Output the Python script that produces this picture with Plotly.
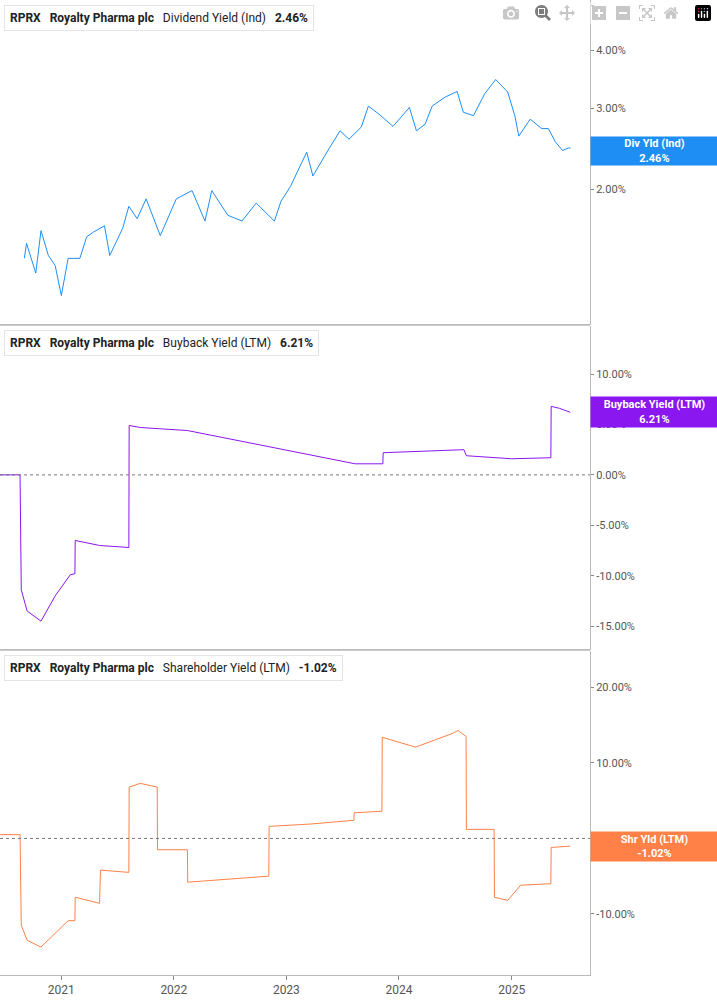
import plotly.graph_objects as go
from plotly.subplots import make_subplots

# dividend yield (Ind), percent
div_dates = ["2020-09-03", "2020-09-10", "2020-10-10", "2020-10-27", "2020-11-20", "2020-12-12",
             "2021-01-01", "2021-01-23", "2021-03-02", "2021-03-24", "2021-04-16", "2021-05-21",
             "2021-06-07", "2021-07-19", "2021-08-08", "2021-09-04", "2021-10-03", "2021-11-18",
             "2022-01-09", "2022-03-01", "2022-04-12", "2022-05-04", "2022-06-25", "2022-08-10",
             "2022-09-25", "2022-11-23", "2022-12-15", "2023-01-14", "2023-03-08", "2023-03-28",
             "2023-05-19", "2023-06-24", "2023-07-23", "2023-09-01", "2023-09-24", "2023-10-29",
             "2023-12-13", "2024-02-04", "2024-02-27", "2024-03-26", "2024-04-18", "2024-05-30",
             "2024-07-08", "2024-07-28", "2024-08-30", "2024-10-05", "2024-11-10", "2024-12-19",
             "2025-01-11", "2025-01-24", "2025-03-02", "2025-04-08", "2025-04-30", "2025-05-22",
             "2025-06-15", "2025-07-04", "2025-07-11"]
div_vals = [1.42, 1.53, 1.32, 1.63, 1.44, 1.37,
            1.18, 1.42, 1.42, 1.58, 1.62, 1.67,
            1.44, 1.65, 1.84, 1.73, 1.91, 1.59,
            1.91, 1.99, 1.71, 1.99, 1.76, 1.71,
            1.87, 1.71, 1.89, 2.03, 2.41, 2.14,
            2.45, 2.68, 2.57, 2.73, 3.03, 2.91,
            2.74, 3.01, 2.68, 2.77, 3.03, 3.17,
            3.26, 2.94, 2.89, 3.22, 3.46, 3.25,
            2.89, 2.61, 2.84, 2.71, 2.71, 2.54,
            2.43, 2.46, 2.46]

# buyback yield (LTM), percent
bb_dates = ["2020-06-16", "2020-08-20", "2020-08-24", "2020-09-12", "2020-10-27", "2020-12-12",
            "2021-01-30", "2021-02-14", "2021-02-15", "2021-05-05", "2021-08-08", "2021-08-09",
            "2021-09-14", "2022-02-14", "2023-08-12", "2023-11-10", "2023-11-11", "2024-07-30",
            "2024-08-07", "2025-01-01", "2025-05-08", "2025-05-09", "2025-06-05", "2025-07-10"]
bb_vals = [0.0, 0.0, -11.4, -13.5, -14.5, -12.0,
           -9.9, -9.8, -6.5, -7.0, -7.2, 4.9,
           4.7, 4.4, 1.1, 1.1, 2.2, 2.5,
           1.9, 1.6, 1.7, 6.8, 6.6, 6.21]

# shareholder yield (LTM), percent
sh_dates = ["2020-06-16", "2020-08-20", "2020-08-24", "2020-09-12", "2020-10-27", "2020-12-12",
            "2021-01-23", "2021-02-14", "2021-02-15", "2021-05-05", "2021-05-08", "2021-08-08",
            "2021-08-09", "2021-09-14", "2021-11-08", "2021-11-09", "2022-02-14", "2022-02-15",
            "2022-07-02", "2022-11-05", "2022-11-06", "2023-03-18", "2023-08-08", "2023-08-09",
            "2023-11-07", "2023-11-08", "2024-02-24", "2024-06-22", "2024-07-11", "2024-08-06",
            "2024-08-07", "2024-11-05", "2024-11-06", "2024-12-19", "2025-01-30", "2025-05-08",
            "2025-05-09", "2025-07-10"]
sh_vals = [0.5, 0.5, -11.5, -13.5, -14.4, -12.5,
           -10.9, -10.9, -7.8, -8.6, -4.2, -4.5,
           6.8, 7.3, 6.8, -1.5, -1.5, -5.8,
           -5.4, -5.0, 1.6, 1.9, 2.4, 3.4,
           3.6, 13.4, 12.1, 13.9, 14.3, 13.5,
           1.2, 1.2, -7.8, -8.2, -6.2, -6.0,
           -1.2, -1.02]

years = ["2021-01-01", "2022-01-01", "2023-01-01", "2024-01-01", "2025-01-01"]
year_labels = ["2021", "2022", "2023", "2024", "2025"]

BLUE = "#1e8ef5"
PURPLE = "#8a16f0"
ORANGE = "#ff8147"
H = 975.0  # plot area height in px
W = 590.0

fig = make_subplots(rows=3, cols=1, shared_xaxes=True, vertical_spacing=0.002)
fig.add_trace(go.Scatter(x=div_dates, y=div_vals, mode="lines", line=dict(color=BLUE, width=1)), row=1, col=1)
fig.add_trace(go.Scatter(x=bb_dates, y=bb_vals, mode="lines", line=dict(color=PURPLE, width=1)), row=2, col=1)
fig.add_trace(go.Scatter(x=sh_dates, y=sh_vals, mode="lines", line=dict(color=ORANGE, width=1)), row=3, col=1)

for r in (2, 3):
    fig.add_hline(y=0, line=dict(color="#777", width=1, dash="dot"), row=r, col=1)

tickfont = dict(size=11, color="#555")
yax = dict(side="right", showgrid=False, zeroline=False, ticks="outside", ticklen=3,
           tickcolor="#888", tickfont=tickfont, showline=True, linecolor="#bbb")
fig.update_yaxes(**yax)
fig.update_yaxes(type="log", range=[0.011, 0.711], tickvals=[2, 3, 4, 5],
                 ticktext=["2.00%", "3.00%", "4.00%", "5.00%"], row=1, col=1)
fig.update_yaxes(range=[-17.3, 14.8], tickvals=[-15, -10, -5, 0, 5, 10],
                 ticktext=["-15.00%", "-10.00%", "-5.00%", "0.00%", "5.00%", "10.00%"], row=2, col=1)
fig.update_yaxes(range=[-18.1, 24.8], tickvals=[-10, 0, 10, 20],
                 ticktext=["-10.00%", "0.00%", "10.00%", "20.00%"], row=3, col=1)
fig.update_xaxes(range=["2020-06-16", "2025-09-12"], showgrid=False, showline=True, linecolor="#bbb",
                 tickvals=years, ticktext=year_labels, ticks="")
fig.update_xaxes(ticks="outside", ticklen=4, tickcolor="#888",
                 tickfont=dict(size=12, color="#555", family="Roboto"), row=3, col=1)

legends = [("Dividend Yield (Ind)", "2.46%", BLUE, 5),
           ("Buyback Yield (LTM)", "6.21%", PURPLE, 330),
           ("Shareholder Yield (LTM)", "-1.02%", ORANGE, 655)]
for name, val, col, top in legends:
    yc = 1 - (top + 12.5) / H
    fig.add_annotation(xref="paper", yref="paper", x=4 / W, y=yc, xanchor="left", yanchor="middle",
                       showarrow=False, font=dict(size=12, color="#222", family="Roboto"),
                       bgcolor="white", bordercolor="#e4e4e4", borderwidth=1, borderpad=5,
                       text=f"<b>RPRX</b>   <b>Royalty Pharma plc</b>   {name}   <b>{val}</b>")
    fig.add_shape(type="rect", xref="paper", yref="paper", x0=4 / W, x1=7 / W,
                  y0=1 - (top + 25) / H, y1=1 - top / H,
                  line=dict(width=0), fillcolor=col, layer="above")

badges = [("Div Yld (Ind)", "2.46%", BLUE, 137, 165),
          ("Buyback Yield (LTM)", "6.21%", PURPLE, 397, 427),
          ("Shr Yld (LTM)", "-1.02%", ORANGE, 832, 861)]
for name, val, col, top, bot in badges:
    fig.add_annotation(xref="paper", yref="paper", x=1.0, y=1 - (top + bot) / 2 / H,
                       xanchor="left", yanchor="middle", width=125, height=bot - top - 2,
                       bgcolor=col, borderpad=1, align="center",
                       showarrow=False, font=dict(size=11, color="white", family="Roboto"),
                       text=f"<b>{name}<br>{val}</b>")

# panel separators
for py in (325.5, 650.5):
    fig.add_shape(type="line", xref="paper", yref="paper", x0=0, x1=1, y0=1 - py / H, y1=1 - py / H,
                  line=dict(color="#ccc", width=1))

fig.update_layout(width=717, height=1005, margin=dict(l=0, r=127, t=0, b=30),
                  paper_bgcolor="white", plot_bgcolor="white", showlegend=False,
                  font=dict(family="Roboto"))
fig.write_html("out.html", post_script="document.body.style.margin='0';")
